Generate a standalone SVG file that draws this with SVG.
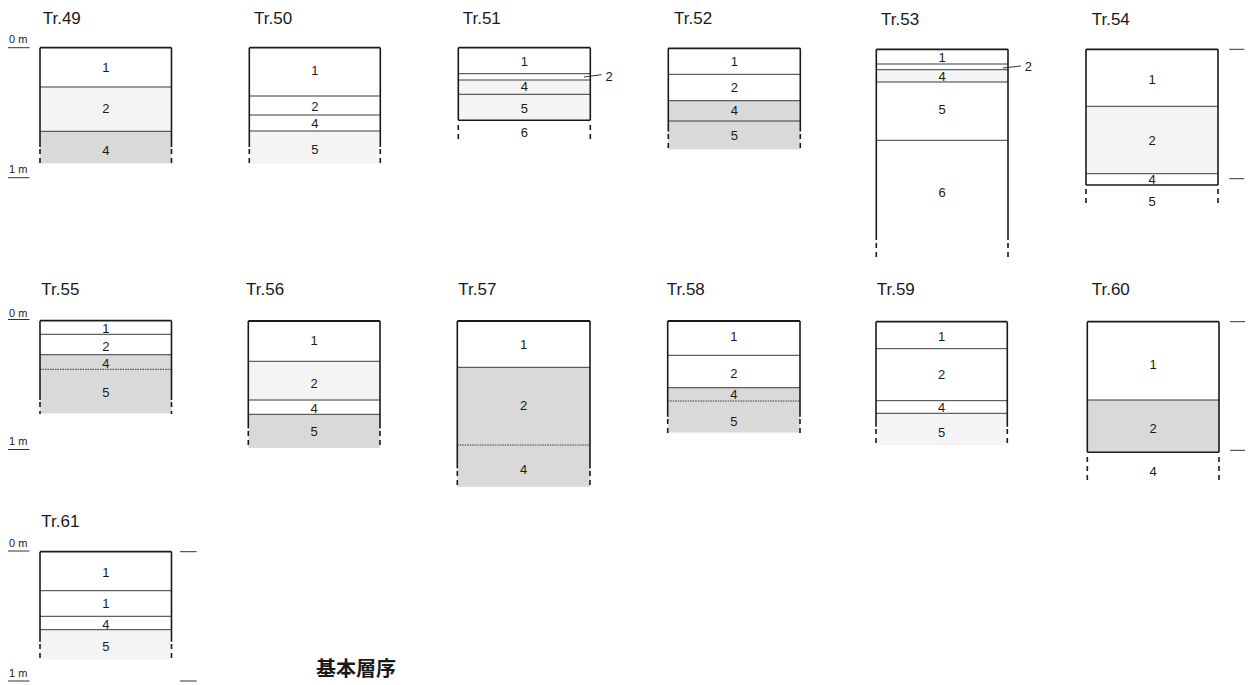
<svg xmlns="http://www.w3.org/2000/svg" width="1248" height="685" viewBox="0 0 1248 685">
<style>
.bg{fill:#ffffff}
.t{font-family:"Liberation Sans",Arial,sans-serif;font-size:17px;fill:#1a1a1a}
.n{font-family:"Liberation Sans",Arial,sans-serif;font-size:13px;fill:#1a1a1a;text-anchor:middle}
.sc{font-family:"Liberation Sans",Arial,sans-serif;font-size:11px;fill:#1a1a1a}
.w{fill:#ffffff}
.l{fill:#f4f4f4}
.d{fill:#d9d9d9}
.top{stroke:#1a1a1a;stroke-width:1.8;fill:none}
.side{stroke:#1a1a1a;stroke-width:1.6;fill:none}
.dash{stroke:#1a1a1a;stroke-width:1.6;fill:none;stroke-dasharray:5 4}
.b{stroke:#3a3a3a;stroke-width:1;fill:none}
.m{stroke:#333;stroke-width:1;fill:none}
.h{font-family:"Noto Sans CJK JP","Noto Sans CJK SC",sans-serif;font-size:20px;font-weight:bold;fill:#1a1a1a}
</style>
<rect class="bg" x="0" y="0" width="1248" height="685"/>

<g id="scale">
<text class="sc" x="9" y="42.5">0 m</text><line class="m" x1="8" y1="47.7" x2="29.5" y2="47.7"/>
<text class="sc" x="9" y="172.5">1 m</text><line class="m" x1="8" y1="177.7" x2="29.5" y2="177.7"/>
<text class="sc" x="9" y="316.5">0 m</text><line class="m" x1="8" y1="319.5" x2="29.5" y2="319.5"/>
<text class="sc" x="9" y="445">1 m</text><line class="m" x1="8" y1="449.5" x2="29.5" y2="449.5"/>
<text class="sc" x="9" y="546.5">0 m</text><line class="m" x1="8" y1="551" x2="29.5" y2="551"/>
<text class="sc" x="9" y="676.5">1 m</text><line class="m" x1="8" y1="681" x2="29.5" y2="681"/>
<line class="m" x1="1229.3" y1="49.3" x2="1244.3" y2="49.3"/>
<line class="m" x1="1229.3" y1="178.7" x2="1244.3" y2="178.7"/>
<line class="m" x1="1230" y1="321.7" x2="1245" y2="321.7"/>
<line class="m" x1="1230" y1="450.3" x2="1245" y2="450.3"/>
<line class="m" x1="180" y1="551.7" x2="196.7" y2="551.7"/>
<line class="m" x1="180" y1="681" x2="196.7" y2="681"/>
</g>

<g id="tr49">
<text class="t" x="42.7" y="24">Tr.49</text>
<rect class="w" x="40" y="47.7" width="131.5" height="39.3"/>
<rect class="l" x="40" y="87" width="131.5" height="44.3"/>
<rect class="d" x="40" y="131.3" width="131.5" height="32"/>
<line class="b" x1="40" y1="87" x2="171.5" y2="87"/>
<line class="b" x1="40" y1="131.3" x2="171.5" y2="131.3"/>
<line class="top" x1="40" y1="47.7" x2="171.5" y2="47.7"/>
<path class="side" d="M40 47.7V147M171.5 47.7V147"/>
<path class="dash" d="M40 149V164M171.5 149V164"/>
<text class="n" x="105.8" y="72.4">1</text>
<text class="n" x="105.8" y="113">2</text>
<text class="n" x="105.8" y="155.4">4</text>
</g>

<g id="tr50">
<text class="t" x="254" y="24">Tr.50</text>
<rect class="l" x="249.3" y="131" width="131" height="32.5"/>
<line class="b" x1="249.3" y1="96" x2="380.3" y2="96"/>
<line class="b" x1="249.3" y1="115" x2="380.3" y2="115"/>
<line class="b" x1="249.3" y1="131" x2="380.3" y2="131"/>
<line class="top" x1="249.3" y1="47.7" x2="380.3" y2="47.7"/>
<path class="side" d="M249.3 47.7V147M380.3 47.7V147"/>
<path class="dash" d="M249.3 149V164M380.3 149V164"/>
<text class="n" x="314.8" y="75.4">1</text>
<text class="n" x="314.8" y="110.7">2</text>
<text class="n" x="314.8" y="128">4</text>
<text class="n" x="314.8" y="154.4">5</text>
</g>

<g id="tr51">
<text class="t" x="462.7" y="24">Tr.51</text>
<rect class="l" x="458.3" y="80" width="132" height="40.3"/>
<line class="b" x1="458.3" y1="73.7" x2="590.3" y2="73.7"/>
<line class="b" x1="458.3" y1="80" x2="590.3" y2="80"/>
<line class="b" x1="458.3" y1="94.3" x2="590.3" y2="94.3"/>
<line class="side" x1="458.3" y1="120.3" x2="590.3" y2="120.3"/>
<line class="top" x1="458.3" y1="47.7" x2="590.3" y2="47.7"/>
<path class="side" d="M458.3 47.7V120.3M590.3 47.7V120.3"/>
<path class="dash" d="M458.3 125V140M590.3 125V140"/>
<line class="m" x1="584" y1="77" x2="601.5" y2="74.7"/>
<text class="n" x="609" y="80.7">2</text>
<text class="n" x="524.3" y="65.7">1</text>
<text class="n" x="524.3" y="91.4">4</text>
<text class="n" x="524.3" y="113">5</text>
<text class="n" x="524.3" y="137.4">6</text>
</g>

<g id="tr52">
<text class="t" x="674" y="24">Tr.52</text>
<rect class="d" x="668.3" y="100.7" width="132" height="48.8"/>
<line class="b" x1="668.3" y1="74.3" x2="800.3" y2="74.3"/>
<line class="b" x1="668.3" y1="100.7" x2="800.3" y2="100.7"/>
<line class="b" x1="668.3" y1="121" x2="800.3" y2="121"/>
<line class="top" x1="668.3" y1="48.3" x2="800.3" y2="48.3"/>
<path class="side" d="M668.3 48.3V131.5M800.3 48.3V131.5"/>
<path class="dash" d="M668.3 134V150M800.3 134V150"/>
<text class="n" x="734.3" y="65.7">1</text>
<text class="n" x="734.3" y="91.7">2</text>
<text class="n" x="734.3" y="114.7">4</text>
<text class="n" x="734.3" y="139.7">5</text>
</g>

<g id="tr53">
<text class="t" x="881" y="25">Tr.53</text>
<rect class="l" x="876.3" y="69.7" width="131.7" height="12.3"/>
<line class="b" x1="876.3" y1="64" x2="1008" y2="64"/>
<line class="b" x1="876.3" y1="69.7" x2="1008" y2="69.7"/>
<line class="b" x1="876.3" y1="82" x2="1008" y2="82"/>
<line class="b" x1="876.3" y1="140.3" x2="1008" y2="140.3"/>
<line class="top" x1="876.3" y1="49.3" x2="1008" y2="49.3"/>
<path class="side" d="M876.3 49.3V240M1008 49.3V240"/>
<path class="dash" d="M876.3 243V258M1008 243V258"/>
<line class="m" x1="1003" y1="68" x2="1020.7" y2="66"/>
<text class="n" x="1028.3" y="71.4">2</text>
<text class="n" x="942.2" y="62">1</text>
<text class="n" x="942.2" y="80.7">4</text>
<text class="n" x="942.2" y="113.7">5</text>
<text class="n" x="942.2" y="197.4">6</text>
</g>

<g id="tr54">
<text class="t" x="1091.7" y="25">Tr.54</text>
<rect class="l" x="1086" y="106.3" width="132" height="67.4"/>
<line class="b" x1="1086" y1="106.3" x2="1218" y2="106.3"/>
<line class="b" x1="1086" y1="173.7" x2="1218" y2="173.7"/>
<line class="side" x1="1086" y1="185" x2="1218" y2="185"/>
<line class="top" x1="1086" y1="49.3" x2="1218" y2="49.3"/>
<path class="side" d="M1086 49.3V185M1218 49.3V185"/>
<path class="dash" d="M1086 189V204.5M1218 189V204.5"/>
<text class="n" x="1152" y="83.7">1</text>
<text class="n" x="1152" y="144.7">2</text>
<text class="n" x="1152" y="184">4</text>
<text class="n" x="1152" y="206.4">5</text>
</g>

<g id="tr55">
<text class="t" x="41.3" y="295">Tr.55</text>
<rect class="d" x="40" y="354.7" width="131.5" height="58.8"/>
<line class="b" x1="40" y1="334.3" x2="171.5" y2="334.3"/>
<line class="b" x1="40" y1="354.7" x2="171.5" y2="354.7"/>
<line class="b" x1="40" y1="369.3" x2="171.5" y2="369.3" stroke-dasharray="1.5 1"/>
<line class="top" x1="40" y1="320.7" x2="171.5" y2="320.7"/>
<path class="side" d="M40 320.7V400M171.5 320.7V400"/>
<path class="dash" d="M40 402V414M171.5 402V414"/>
<text class="n" x="105.8" y="333">1</text>
<text class="n" x="105.8" y="351">2</text>
<text class="n" x="105.8" y="368">4</text>
<text class="n" x="105.8" y="397.4">5</text>
</g>

<g id="tr56">
<text class="t" x="246" y="295">Tr.56</text>
<rect class="l" x="248.3" y="361.3" width="131.7" height="38.7"/>
<rect class="d" x="248.3" y="414.3" width="131.7" height="33.7"/>
<line class="b" x1="248.3" y1="361.3" x2="380" y2="361.3"/>
<line class="b" x1="248.3" y1="400" x2="380" y2="400"/>
<line class="b" x1="248.3" y1="414.3" x2="380" y2="414.3"/>
<line class="top" x1="248.3" y1="321" x2="380" y2="321"/>
<path class="side" d="M248.3 321V428.3M380 321V428.3"/>
<path class="dash" d="M248.3 431V448M380 431V448"/>
<text class="n" x="314.2" y="345.4">1</text>
<text class="n" x="314.2" y="388">2</text>
<text class="n" x="314.2" y="413">4</text>
<text class="n" x="314.2" y="436.4">5</text>
</g>

<g id="tr57">
<text class="t" x="458.3" y="295">Tr.57</text>
<rect class="d" x="457.3" y="367.3" width="132.7" height="119.5"/>
<line class="b" x1="457.3" y1="367.3" x2="590" y2="367.3"/>
<line class="b" x1="457.3" y1="445" x2="590" y2="445" stroke-dasharray="1.5 1"/>
<line class="top" x1="457.3" y1="321" x2="590" y2="321"/>
<path class="side" d="M457.3 321V468.3M590 321V468.3"/>
<path class="dash" d="M457.3 471V487M590 471V487"/>
<text class="n" x="523.7" y="349">1</text>
<text class="n" x="523.7" y="409.7">2</text>
<text class="n" x="523.7" y="473.7">4</text>
</g>

<g id="tr58">
<text class="t" x="666.7" y="295">Tr.58</text>
<rect class="d" x="667.7" y="387.7" width="132.3" height="44.8"/>
<line class="b" x1="667.7" y1="355.3" x2="800" y2="355.3"/>
<line class="b" x1="667.7" y1="387.7" x2="800" y2="387.7"/>
<line class="b" x1="667.7" y1="401" x2="800" y2="401" stroke-dasharray="1.5 1"/>
<line class="top" x1="667.7" y1="321" x2="800" y2="321"/>
<path class="side" d="M667.7 321V416.7M800 321V416.7"/>
<path class="dash" d="M667.7 419V433M800 419V433"/>
<text class="n" x="733.8" y="341.4">1</text>
<text class="n" x="733.8" y="378">2</text>
<text class="n" x="733.8" y="398.7">4</text>
<text class="n" x="733.8" y="426.4">5</text>
</g>

<g id="tr59">
<text class="t" x="876.7" y="295">Tr.59</text>
<rect class="l" x="876" y="413.3" width="131.3" height="31.7"/>
<line class="b" x1="876" y1="348.7" x2="1007.3" y2="348.7"/>
<line class="b" x1="876" y1="400.7" x2="1007.3" y2="400.7"/>
<line class="b" x1="876" y1="413.3" x2="1007.3" y2="413.3"/>
<line class="top" x1="876" y1="321.7" x2="1007.3" y2="321.7"/>
<path class="side" d="M876 321.7V426.7M1007.3 321.7V426.7"/>
<path class="dash" d="M876 429V445M1007.3 429V445"/>
<text class="n" x="941.7" y="340.7">1</text>
<text class="n" x="941.7" y="378.7">2</text>
<text class="n" x="941.7" y="412">4</text>
<text class="n" x="941.7" y="437">5</text>
</g>

<g id="tr60">
<text class="t" x="1091.7" y="295">Tr.60</text>
<rect class="d" x="1087.3" y="400" width="131.7" height="52.3"/>
<line class="b" x1="1087.3" y1="400" x2="1219" y2="400"/>
<line class="side" x1="1087.3" y1="452.3" x2="1219" y2="452.3"/>
<line class="top" x1="1087.3" y1="321.7" x2="1219" y2="321.7"/>
<path class="side" d="M1087.3 321.7V452.3M1219 321.7V452.3"/>
<path class="dash" d="M1087.3 457V481M1219 457V481"/>
<text class="n" x="1153.2" y="369">1</text>
<text class="n" x="1153.2" y="433">2</text>
<text class="n" x="1153.2" y="476.4">4</text>
</g>

<g id="tr61">
<text class="t" x="41.3" y="526.7">Tr.61</text>
<rect class="l" x="40" y="629.7" width="131.5" height="29.8"/>
<line class="b" x1="40" y1="590.7" x2="171.5" y2="590.7"/>
<line class="b" x1="40" y1="616.3" x2="171.5" y2="616.3"/>
<line class="b" x1="40" y1="629.7" x2="171.5" y2="629.7"/>
<line class="top" x1="40" y1="551.7" x2="171.5" y2="551.7"/>
<path class="side" d="M40 551.7V641.7M171.5 551.7V641.7"/>
<path class="dash" d="M40 644V660M171.5 644V660"/>
<text class="n" x="105.8" y="577.4">1</text>
<text class="n" x="105.8" y="608.4">1</text>
<text class="n" x="105.8" y="628.7">4</text>
<text class="n" x="105.8" y="651.4">5</text>
</g>

<g id="caption">
<text class="h" x="316" y="676">基本層序</text>
</g>
</svg>
